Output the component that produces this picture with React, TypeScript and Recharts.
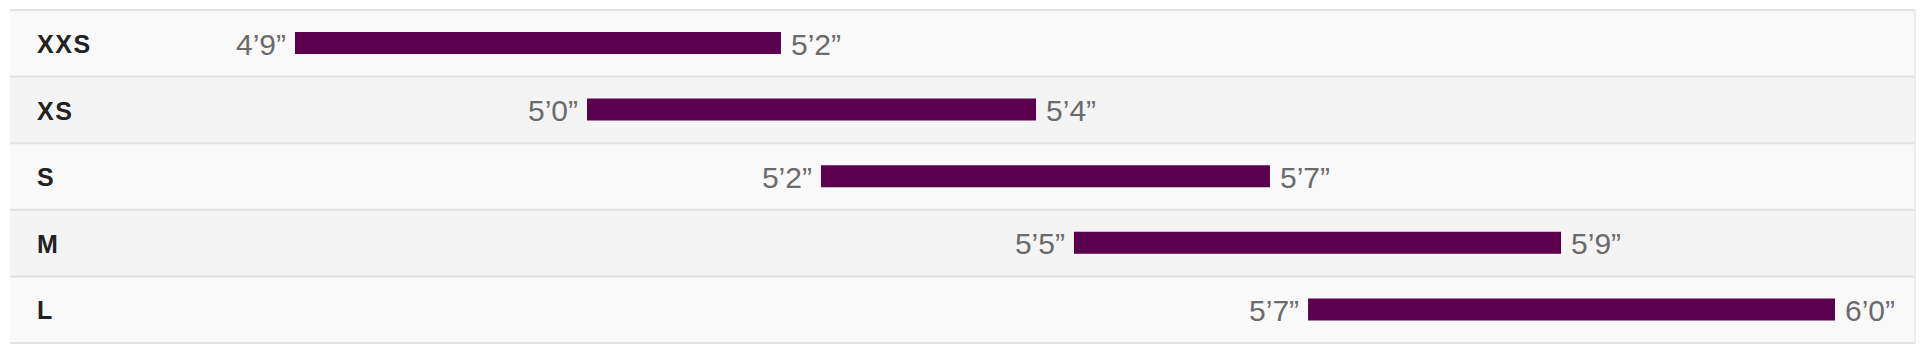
import React from 'react';
import { BarChart, Bar, XAxis, YAxis, CartesianGrid, LabelList, ReferenceLine } from 'recharts';

// Size categories
const sizes = ['XXS', 'XS', 'S', 'M', 'L'];
// Height range labels
const minHeights = ['4’9”', '5’0”', '5’2”', '5’5”', '5’7”'];
const maxHeights = ['5’2”', '5’4”', '5’7”', '5’9”', '6’0”'];
// Bar extents on the chart track (0–100)
const barStart = [14.96, 30.29, 42.57, 55.85, 68.14];
const barEnd = [40.47, 53.86, 66.14, 81.42, 95.8];

const data = sizes.map((size, i) => ({
  size,
  range: [barStart[i], barEnd[i]],
  low: minHeights[i],
  high: maxHeights[i],
}));

const valueFont = '"Liberation Sans", Arial, Helvetica, sans-serif';

const LeftLabel = (p: any) => {
  const x = Number(p.x);
  const y = Number(p.y);
  const h = Number(p.height);
  return (
    <text x={x - 9} y={y + h / 2 + 1} textAnchor="end" dominantBaseline="central"
      fontFamily={valueFont} fontSize={30} fill="#6b6b6b">
      {p.value}
    </text>
  );
};

const RightLabel = (p: any) => {
  const x = Number(p.x);
  const y = Number(p.y);
  const w = Number(p.width);
  const h = Number(p.height);
  return (
    <text x={x + w + 10} y={y + h / 2 + 1} textAnchor="start" dominantBaseline="central"
      fontFamily={valueFont} fontSize={30} fill="#6b6b6b">
      {p.value}
    </text>
  );
};

const SizeLabel = (p: any) => {
  const y = Number(p.y);
  const h = Number(p.height);
  return (
    <text x={37} y={y + h / 2 + 1} dominantBaseline="central" fontFamily={valueFont}
      fontWeight={700} fontSize={25} fill="#222222" letterSpacing={1.6}>
      {p.value}
    </text>
  );
};

const rowBoundaries = (args: any) => {
  const off = args.offset;
  const n = sizes.length;
  const pts: number[] = [];
  for (let i = 0; i <= n; i++) pts.push(off.top + (i * off.height) / n);
  return pts;
};

export default function App() {
  return (
    <div style={{ width: 1920, height: 346, background: '#ffffff' }}>
      <style>{'body{margin:0;background:#fff}'}</style>
      <BarChart
        width={1920}
        height={346}
        data={data}
        layout="vertical"
        margin={{ top: 10, right: 5, bottom: 3, left: 10 }}
        barCategoryGap={0}
      >
        <CartesianGrid
          vertical={false}
          stroke="#e2e2e2"
          strokeWidth={2}
          horizontalFill={['#f9f9f9', '#f4f4f4']}
          fillOpacity={1}
          horizontalCoordinatesGenerator={rowBoundaries}
        />
        <XAxis type="number" domain={[0, 100]} hide />
        <YAxis type="category" dataKey="size" hide />
        <ReferenceLine x={100} stroke="#e8e8e8" strokeWidth={1.5} />
        <Bar dataKey="range" fill="#5a004f" barSize={22} isAnimationActive={false}>
          <LabelList dataKey="size" content={<SizeLabel />} />
          <LabelList dataKey="low" content={<LeftLabel />} />
          <LabelList dataKey="high" content={<RightLabel />} />
        </Bar>
      </BarChart>
    </div>
  );
}
